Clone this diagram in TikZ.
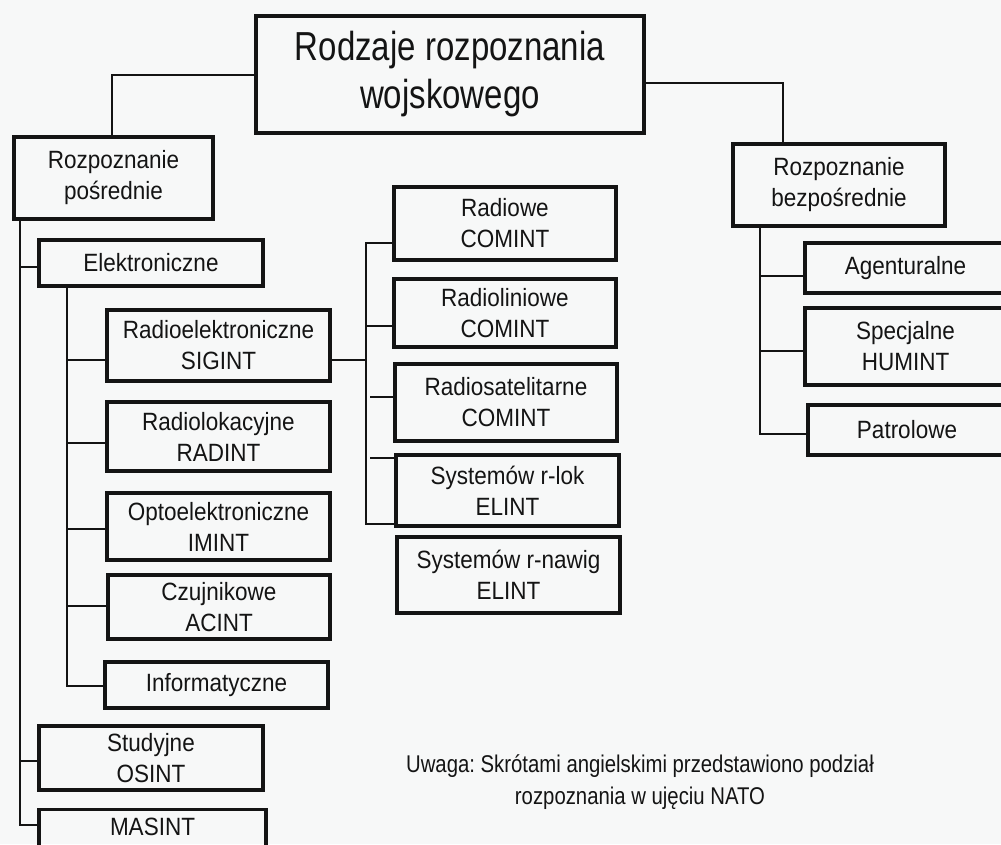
\documentclass[tikz,border=0pt]{standalone}
\usepackage{fontspec}
\setmainfont{Liberation Sans}
\newfontfamily\boxfont[FakeStretch=0.9]{Liberation Sans}
\newfontfamily\titlefont[FakeStretch=0.815]{Liberation Sans}
\newfontfamily\notefont[FakeStretch=0.84]{Liberation Sans}
\definecolor{bg}{RGB}{247,248,248}
\definecolor{ink}{RGB}{20,20,20}
\frenchspacing
\begin{document}
\begin{tikzpicture}[x=1pt,y=-1pt,
  box/.style={draw=ink, line width=3.4pt, inner sep=0pt, align=center, text=ink,
    font=\boxfont\fontsize{25}{31}\selectfont},
  titlebox/.style={box, font=\titlefont\fontsize{40.5}{48}\selectfont},
  conn/.style={draw=ink, line width=2.2pt, line cap=rect},
  note/.style={align=center, text=ink, font=\notefont\fontsize{24.2}{32}\selectfont}
]
\useasboundingbox (0,0) rectangle (1001,844);
\fill[bg] (0,0) rectangle (1001,844);
\clip (0,0) rectangle (1001,844);

% top
\node[titlebox, minimum width=388, minimum height=117] (main) at (450,74.5) {Rodzaje rozpoznania\\wojskowego};
\node[box, minimum width=199, minimum height=82] (pos) at (113.5,178) {Rozpoznanie\\pośrednie};
\node[box, minimum width=212, minimum height=82] (bez) at (839,185) {Rozpoznanie\\bezpośrednie};

% left branch
\node[box, minimum width=224, minimum height=46] (elek) at (151,263) {Elektroniczne};
\node[box, minimum width=223, minimum height=71] (radioel) at (218.5,345.5) {Radioelektroniczne\\SIGINT};
\node[box, minimum width=223, minimum height=69] (radiolok) at (218.5,436.5) {Radiolokacyjne\\RADINT};
\node[box, minimum width=223, minimum height=67] (opto) at (218.5,526.5) {Optoelektroniczne\\IMINT};
\node[box, minimum width=222, minimum height=64] (czuj) at (219,607) {Czujnikowe\\ACINT};
\node[box, minimum width=223, minimum height=46] (inf) at (216.5,685) {Informatyczne};
\node[box, minimum width=224, minimum height=64] (stud) at (151,758) {Studyjne\\OSINT};
\node[box, anchor=north, minimum width=227, inner ysep=8.5pt, text height=18pt, text depth=40pt] (masint) at (152.5,807.7) {MASINT};

% SIGINT branch
\node[box, minimum width=222, minimum height=73] (radiowe) at (505,223.5) {Radiowe\\COMINT};
\node[box, minimum width=222, minimum height=68] (radiolin) at (505,313) {Radioliniowe\\COMINT};
\node[box, minimum width=222, minimum height=77] (radiosat) at (506,402.5) {Radiosatelitarne\\COMINT};
\node[box, minimum width=223, minimum height=71] (rlok) at (507.5,490.5) {Systemów r-lok\\ELINT};
\node[box, minimum width=223, minimum height=76] (rnawig) at (508.5,575) {Systemów r-nawig\\ELINT};

% right branch
\node[box, minimum width=201, minimum height=50] (agent) at (905.5,268) {Agenturalne};
\node[box, minimum width=201, minimum height=77] (spec) at (905.5,346.5) {Specjalne\\HUMINT};
\node[box, minimum width=198, minimum height=50] (patrol) at (907,430) {Patrolowe};

% note
\node[note] (uwaga) at (640,782) {Uwaga: Skrótami angielskimi przedstawiono podział\\rozpoznania w ujęciu NATO};

% connectors from the top box
\draw[conn] (main.west |- 0,75) -| (pos.north -| 112,0);
\draw[conn] (main.east |- 0,83) -| (bez.north -| 783,0);

% left trunk
\draw[conn] (pos.south -| 20,0) |- (masint.west |- 0,825);
\draw[conn] (elek.west |- 0,267) -- (20,267);
\draw[conn] (stud.west |- 0,761) -- (20,761);

% electronic trunk
\draw[conn] (elek.south -| 67,0) |- (inf.west |- 0,686);
\draw[conn] (radioel.west |- 0,360) -- (67,360);
\draw[conn] (radiolok.west |- 0,443) -- (67,443);
\draw[conn] (opto.west |- 0,529) -- (67,529);
\draw[conn] (czuj.west |- 0,606) -- (67,606);

% SIGINT trunk
\coordinate (sig) at (366,360);
\draw[conn] (radioel.east |- 0,360) -- (sig);
\draw[conn] (radiowe.west |- 0,243) -| (sig) |- (rlok.west |- 0,524);
\draw[conn] (radiolin.west |- 0,326) -- (366,326);
\draw[conn] (radiosat.west |- 0,397) -- (371,397);
\draw[conn] (rlok.west |- 0,458) -- (371,458);

% right trunk
\draw[conn] (bez.south -| 760,0) |- (patrol.west |- 0,434);
\draw[conn] (agent.west |- 0,276) -- (760,276);
\draw[conn] (spec.west |- 0,351) -- (760,351);
\end{tikzpicture}
\end{document}
